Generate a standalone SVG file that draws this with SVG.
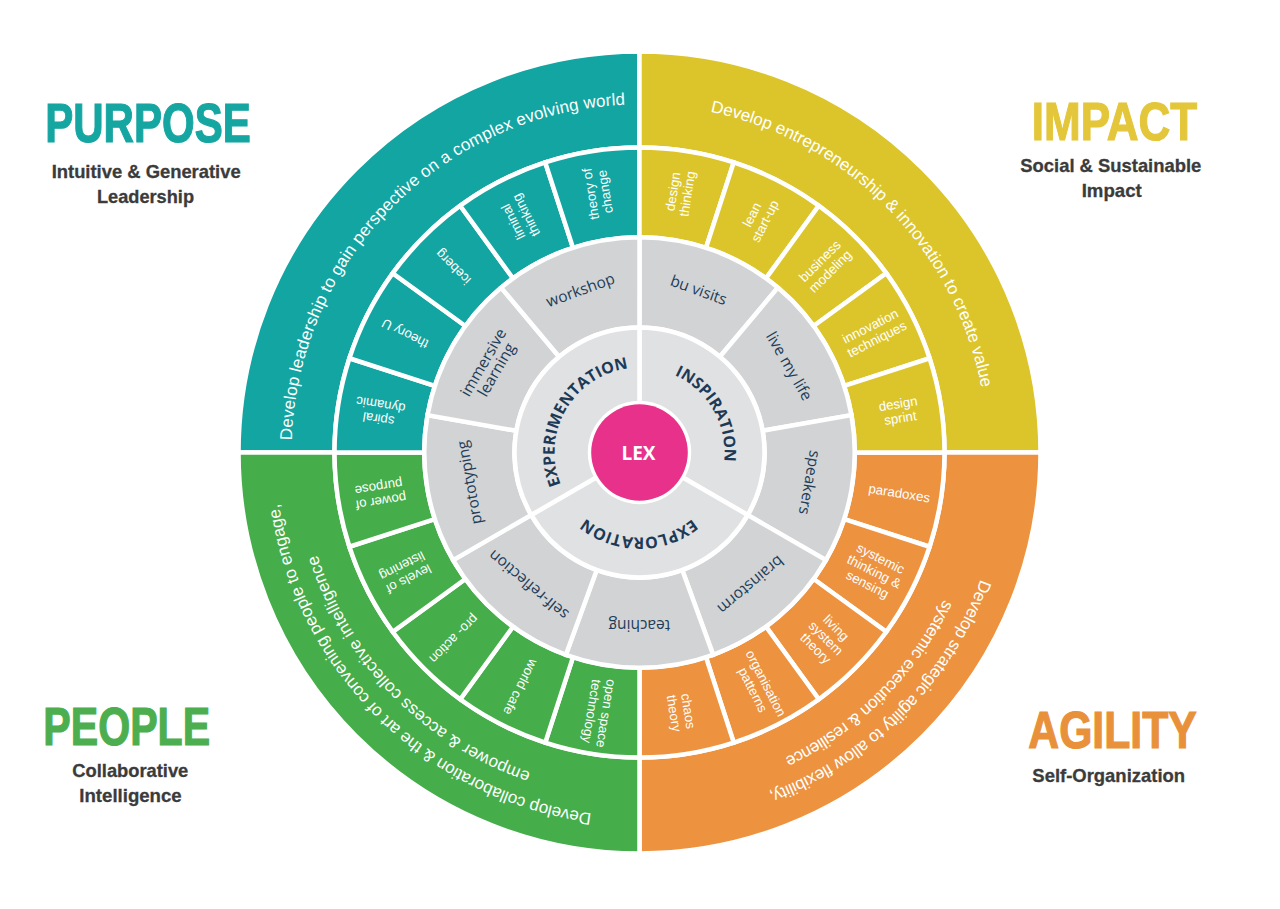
<svg xmlns="http://www.w3.org/2000/svg" xmlns:xlink="http://www.w3.org/1999/xlink" width="1280" height="909" viewBox="0 0 1280 909">
<style>
.s{stroke:#fff;stroke-width:4.5;stroke-linejoin:miter}
.teal{fill:#12a5a2}.yel{fill:#dcc52b}.ora{fill:#ed923e}.grn{fill:#45ad4a}
.g1{fill:#d1d3d5}.g2{fill:#e0e1e3}
.arc{font-family:"Liberation Sans",Arial,sans-serif;font-size:17px;fill:#fff}
.il{font-family:"Liberation Sans",Arial,sans-serif;font-size:13.3px;fill:#fff;text-anchor:middle}
.gl{font-family:"Open Sans","Noto Sans",sans-serif;font-size:15.5px;fill:#213c57;text-anchor:middle}
.ib{font-family:"Open Sans","Noto Sans",sans-serif;font-weight:700;font-size:16px;fill:#1c3a56;letter-spacing:0.2px}
.hd{font-family:"Liberation Sans",Arial,sans-serif;font-weight:700;text-anchor:middle;stroke-width:1.2}
.sub{font-family:"Liberation Sans",Arial,sans-serif;font-weight:700;font-size:18.5px;fill:#3b3b3b;stroke:#3b3b3b;stroke-width:0.3;text-anchor:middle}
</style>
<defs>
<path id="band" d="M401,0 A401,401 0 0 1 0,401 L0,305 A305,305 0 0 0 305,0 Z"/>
<path id="item" d="M305,0 A305,305 0 0 1 290.07,94.25 L204.72,66.52 A215.25,215.25 0 0 0 215.25,0 Z"/>
<path id="gray" d="M215.25,0 A215.25,215.25 0 0 1 164.89,138.36 L95.76,80.35 A125,125 0 0 0 125,0 Z"/>
<path id="inner" d="M125,0 A125,125 0 0 1 -62.5,108.25 L-24.75,42.87 A49.5,49.5 0 0 0 49.5,0 Z"/>
<path id="c348" d="M-348,0 A348,348 0 1 1 348,0 A348,348 0 1 1 -348,0"/>
<path id="c364" d="M-364,0 A364,364 0 1 1 364,0 A364,364 0 1 1 -364,0"/>
<path id="c338" d="M-338,0 A338,338 0 1 1 338,0 A338,338 0 1 1 -338,0"/>
<path id="c85" d="M-85,0 A85,85 0 1 1 85,0 A85,85 0 1 1 -85,0"/>
<path id="c85b" d="M0,85 A85,85 0 1 1 0,-85 A85,85 0 1 1 0,85"/>
</defs>

<g id="wheel" transform="translate(639.5 452.5)">
  <g id="purpose-band">
    <use href="#band" class="s teal" transform="rotate(180)"/>
    <text class="arc" text-anchor="middle"><textPath href="#c348" startOffset="272.1" textLength="520">Develop leadership to gain perspective on a complex evolving world</textPath></text>
  </g>
  <g id="impact-band">
    <use href="#band" class="s yel" transform="rotate(270)"/>
    <text class="arc" text-anchor="middle"><textPath href="#c348" startOffset="822.7" textLength="410">Develop entrepreneurship &amp; innovation to create value</textPath></text>
  </g>
  <g id="agility-band">
    <use href="#band" class="s ora"/>
    <text class="arc" text-anchor="middle"><textPath href="#c364" startOffset="1427.5" textLength="310">Develop strategic agility to allow flexibility,</textPath></text>
    <text class="arc" text-anchor="middle"><textPath href="#c338" startOffset="1327.9" textLength="229">systemic execution &amp; resilience</textPath></text>
  </g>
  <g id="people-band">
    <use href="#band" class="s grn" transform="rotate(90)"/>
    <text class="arc" text-anchor="middle"><textPath href="#c364" startOffset="1998.7" textLength="472">Develop collaboration &amp; the art of convening people to engage,</textPath></text>
    <text class="arc" text-anchor="middle"><textPath href="#c338" startOffset="1860.9" textLength="316">empower &amp; access collective intelligence</textPath></text>
  </g>

  <!-- agility items -->
  <g id="item-paradoxes"><use href="#item" class="s ora" transform="rotate(0)"/><text class="il" transform="rotate(9)" x="263" y="4">paradoxes</text></g>
  <g id="item-systemic"><use href="#item" class="s ora" transform="rotate(18)"/><text class="il" transform="rotate(27)"><tspan x="263" y="-10.5">systemic</tspan><tspan x="263" y="4">thinking &amp;</tspan><tspan x="263" y="18.5">sensing</tspan></text></g>
  <g id="item-living"><use href="#item" class="s ora" transform="rotate(36)"/><text class="il" transform="rotate(45)"><tspan x="263" y="-10.5">living</tspan><tspan x="263" y="4">system</tspan><tspan x="263" y="18.5">theory</tspan></text></g>
  <g id="item-organisation"><use href="#item" class="s ora" transform="rotate(54)"/><text class="il" transform="rotate(63)"><tspan x="263" y="-3.25">organisation</tspan><tspan x="263" y="11.25">patterns</tspan></text></g>
  <g id="item-chaos"><use href="#item" class="s ora" transform="rotate(72)"/><text class="il" transform="rotate(81)"><tspan x="263" y="-3.25">chaos</tspan><tspan x="263" y="11.25">theory</tspan></text></g>

  <!-- people items -->
  <g id="item-openspace"><use href="#item" class="s grn" transform="rotate(90)"/><text class="il" transform="rotate(99)"><tspan x="263" y="-3.25">open space</tspan><tspan x="263" y="11.25">technology</tspan></text></g>
  <g id="item-worldcafe"><use href="#item" class="s grn" transform="rotate(108)"/><text class="il" transform="rotate(117)" x="263" y="4">world cafe</text></g>
  <g id="item-proaction"><use href="#item" class="s grn" transform="rotate(126)"/><text class="il" transform="rotate(135)" x="263" y="4">pro- action</text></g>
  <g id="item-listening"><use href="#item" class="s grn" transform="rotate(144)"/><text class="il" transform="rotate(153)"><tspan x="263" y="-3.25">levels of</tspan><tspan x="263" y="11.25">listening</tspan></text></g>
  <g id="item-purposepower"><use href="#item" class="s grn" transform="rotate(162)"/><text class="il" transform="rotate(171)"><tspan x="263" y="-3.25">power of</tspan><tspan x="263" y="11.25">purpose</tspan></text></g>

  <!-- purpose items -->
  <g id="item-spiral"><use href="#item" class="s teal" transform="rotate(180)"/><text class="il" transform="rotate(189)"><tspan x="263" y="-3.25">spiral</tspan><tspan x="263" y="11.25">dynamic</tspan></text></g>
  <g id="item-theoryu"><use href="#item" class="s teal" transform="rotate(198)"/><text class="il" transform="rotate(207)" x="263" y="4">theory U</text></g>
  <g id="item-iceberg"><use href="#item" class="s teal" transform="rotate(216)"/><text class="il" transform="rotate(225)" x="263" y="4">iceberg</text></g>
  <g id="item-liminal"><use href="#item" class="s teal" transform="rotate(234)"/><text class="il" transform="rotate(243)"><tspan x="263" y="-3.25">liminal</tspan><tspan x="263" y="11.25">thinking</tspan></text></g>
  <g id="item-theorychange"><use href="#item" class="s teal" transform="rotate(252)"/><text class="il" transform="rotate(261)"><tspan x="263" y="-3.25">theory of</tspan><tspan x="263" y="11.25">change</tspan></text></g>

  <!-- impact items -->
  <g id="item-designthinking"><use href="#item" class="s yel" transform="rotate(270)"/><text class="il" transform="rotate(279)"><tspan x="263" y="-3.25">design</tspan><tspan x="263" y="11.25">thinking</tspan></text></g>
  <g id="item-lean"><use href="#item" class="s yel" transform="rotate(288)"/><text class="il" transform="rotate(297)"><tspan x="263" y="-3.25">lean</tspan><tspan x="263" y="11.25">start-up</tspan></text></g>
  <g id="item-business"><use href="#item" class="s yel" transform="rotate(306)"/><text class="il" transform="rotate(315)"><tspan x="263" y="-3.25">business</tspan><tspan x="263" y="11.25">modeling</tspan></text></g>
  <g id="item-innovation"><use href="#item" class="s yel" transform="rotate(324)"/><text class="il" transform="rotate(333)"><tspan x="263" y="-3.25">innovation</tspan><tspan x="263" y="11.25">techniques</tspan></text></g>
  <g id="item-sprint"><use href="#item" class="s yel" transform="rotate(342)"/><text class="il" transform="rotate(351)"><tspan x="263" y="-3.25">design</tspan><tspan x="263" y="11.25">sprint</tspan></text></g>

  <!-- gray method ring -->
  <g id="m-buvisits"><use href="#gray" class="s g1" transform="rotate(-90)"/><text class="gl" transform="rotate(-70) translate(172 0) rotate(90)" y="4.5">bu visits</text></g>
  <g id="m-livemylife"><use href="#gray" class="s g1" transform="rotate(-50)"/><text class="gl" transform="rotate(-30) translate(172 0) rotate(90)" y="4.5">live my life</text></g>
  <g id="m-speakers"><use href="#gray" class="s g1" transform="rotate(-10)"/><text class="gl" transform="rotate(10) translate(172 0) rotate(90)" y="4.5">speakers</text></g>
  <g id="m-brainstorm"><use href="#gray" class="s g1" transform="rotate(30)"/><text class="gl" transform="rotate(50) translate(172 0) rotate(90)" y="4.5">brainstorm</text></g>
  <g id="m-teaching"><use href="#gray" class="s g1" transform="rotate(70)"/><text class="gl" transform="rotate(90) translate(172 0) rotate(90)" y="4.5">teaching</text></g>
  <g id="m-selfreflection"><use href="#gray" class="s g1" transform="rotate(110)"/><text class="gl" transform="rotate(130) translate(172 0) rotate(90)" y="4.5">self-reflection</text></g>
  <g id="m-prototyping"><use href="#gray" class="s g1" transform="rotate(150)"/><text class="gl" transform="rotate(170) translate(172 0) rotate(90)" y="4.5">prototyping</text></g>
  <g id="m-immersive"><use href="#gray" class="s g1" transform="rotate(190)"/><text class="gl" transform="rotate(210) translate(172 0) rotate(90)"><tspan x="0" y="-3">immersive</tspan><tspan x="0" y="12">learning</tspan></text></g>
  <g id="m-workshop"><use href="#gray" class="s g1" transform="rotate(230)"/><text class="gl" transform="rotate(250) translate(172 0) rotate(90)" y="4.5">workshop</text></g>

  <!-- inner ring -->
  <g id="inspiration"><use href="#inner" class="s g2" transform="rotate(-90)"/><text class="ib" text-anchor="middle"><textPath href="#c85b" startOffset="356">INSPIRATION</textPath></text></g>
  <g id="exploration"><use href="#inner" class="s g2" transform="rotate(30)"/><text class="ib" text-anchor="middle"><textPath href="#c85" startOffset="400.6">EXPLORATION</textPath></text></g>
  <g id="experimentation"><use href="#inner" class="s g2" transform="rotate(150)"/><text class="ib" text-anchor="middle"><textPath href="#c85b" startOffset="178">EXPERIMENTATION</textPath></text></g>

  <g id="lex">
    <circle r="48.3" fill="#e8318a"/>
    <text x="-1" y="7" font-family="'Open Sans','Noto Sans',sans-serif" font-weight="700" font-size="19" fill="#fff" text-anchor="middle">LEX</text>
  </g>
</g>

<g id="purpose-title">
  <text class="hd" x="148" y="142.3" font-size="55" fill="#16a6a2" stroke="#16a6a2" textLength="205.7" lengthAdjust="spacingAndGlyphs">PURPOSE</text>
  <text class="sub" x="146.2" y="178.3" textLength="189" lengthAdjust="spacingAndGlyphs">Intuitive &amp; Generative</text>
  <text class="sub" x="145.5" y="203.3" textLength="97" lengthAdjust="spacingAndGlyphs">Leadership</text>
</g>
<g id="impact-title">
  <text class="hd" x="1114.5" y="140" font-size="53.5" fill="#e4c63a" stroke="#e4c63a" textLength="165.6" lengthAdjust="spacingAndGlyphs">IMPACT</text>
  <text class="sub" x="1110.8" y="171.7" textLength="181" lengthAdjust="spacingAndGlyphs">Social &amp; Sustainable</text>
  <text class="sub" x="1111.7" y="197.3" textLength="60" lengthAdjust="spacingAndGlyphs">Impact</text>
</g>
<g id="people-title">
  <text class="hd" x="126.7" y="745" font-size="53.5" fill="#4cae4f" stroke="#4cae4f" textLength="166.7" lengthAdjust="spacingAndGlyphs">PEOPLE</text>
  <text class="sub" x="130.3" y="777.3" textLength="116" lengthAdjust="spacingAndGlyphs">Collaborative</text>
  <text class="sub" x="130.5" y="802.3" textLength="102.4" lengthAdjust="spacingAndGlyphs">Intelligence</text>
</g>
<g id="agility-title">
  <text class="hd" x="1112.5" y="748.3" font-size="51" fill="#e8913a" stroke="#e8913a" textLength="168.4" lengthAdjust="spacingAndGlyphs">AGILITY</text>
  <text class="sub" x="1108.7" y="781.7" textLength="152.7" lengthAdjust="spacingAndGlyphs">Self-Organization</text>
</g>
</svg>
